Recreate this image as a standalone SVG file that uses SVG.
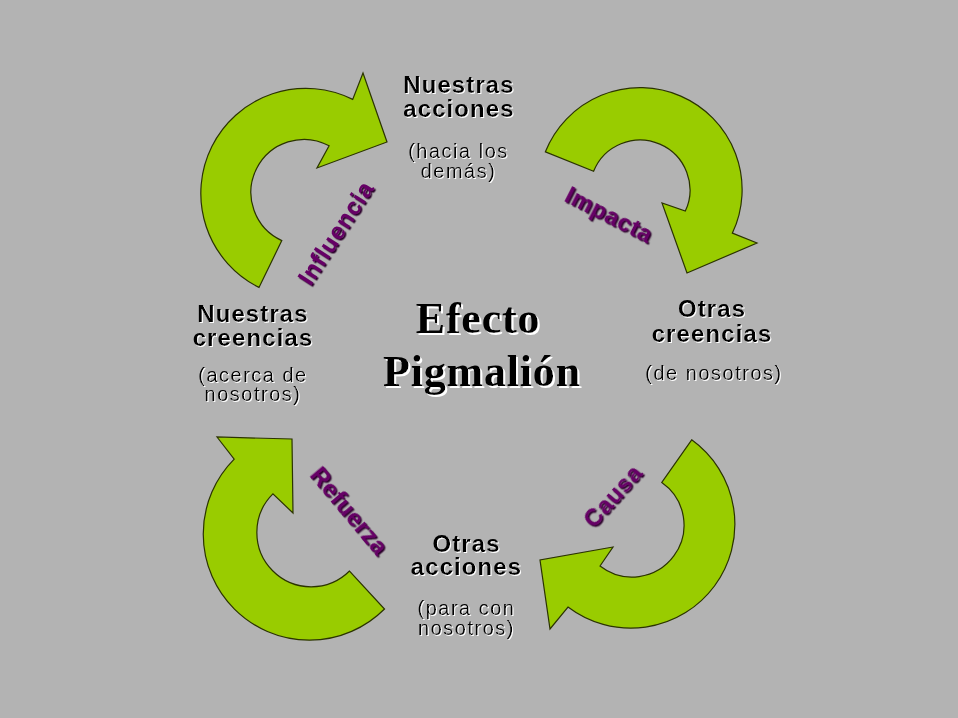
<svg xmlns="http://www.w3.org/2000/svg" width="958" height="718" viewBox="0 0 958 718">
<defs>
<filter id="wsh" x="-10%" y="-20%" width="120%" height="150%">
<feDropShadow dx="1" dy="1" stdDeviation="0" flood-color="#ffffff" flood-opacity="1"/>
</filter>
<filter id="wsh2" x="-10%" y="-20%" width="120%" height="150%">
<feDropShadow dx="2" dy="2" stdDeviation="0" flood-color="#ffffff" flood-opacity="1"/>
</filter>
<filter id="dsh" x="-10%" y="-30%" width="120%" height="160%">
<feDropShadow dx="1.5" dy="1.5" stdDeviation="0" flood-color="#2a002a" flood-opacity="1"/>
</filter>
</defs>
<style>
.arrow{fill:#99cc00;stroke:#2b3300;stroke-width:1.2;stroke-linejoin:miter}
.t{font-family:"Liberation Sans",Arial,sans-serif;text-anchor:middle;fill:#000000}
.b{font-weight:bold;font-size:24px;letter-spacing:1.1px}
.s{font-size:20px;letter-spacing:1.5px}
.title{font-family:"Liberation Serif","Times New Roman",serif;font-weight:bold;font-size:44px;text-anchor:middle;letter-spacing:0.8px;fill:#000000}
.lab{font-family:"Liberation Sans",Arial,sans-serif;font-weight:bold;font-size:24px;text-anchor:middle;letter-spacing:0.6px;fill:#660066}
</style>
<rect width="958" height="718" fill="#b3b3b3"/>
<g id="connectors">
<path id="arrow-influencia" class="arrow" d="M259,287.4 A105,105 0 1 1 352.7,99.4 L363,73 L387,142 L317,168 L329.1,145.8 A53,53 0 1 0 281.8,240.6 Z"/>
<path id="arrow-impacta" class="arrow" d="M545.4,151.8 A102,102 0 1 1 732.4,233.1 L757,243 L687,273 L662,203 L685.3,211.1 A50,50 0 1 0 593.6,171.3 Z"/>
<path id="arrow-causa" class="arrow" d="M691.7,439.8 A104,104 0 1 1 568,607 L550,629 L540,560 L613,547 L600,566 A52,52 0 1 0 661.8,482.4 Z"/>
<path id="arrow-refuerza" class="arrow" d="M384.5,609 A106,106 0 0 1 234.2,459.1 L217,437 L292,439 L293,513 L272.9,493.9 A54,54 0 0 0 349.5,571 Z"/>
<g filter="url(#dsh)">
<text class="lab" transform="translate(336,233) rotate(-57)" x="0" y="8">Influencia</text>
<text class="lab" transform="translate(609,215) rotate(27)" x="0" y="8">Impacta</text>
<text class="lab" transform="translate(613,496) rotate(-48)" x="0" y="8">Causa</text>
<text class="lab" transform="translate(349,511) rotate(50)" x="0" y="8">Refuerza</text>
</g>
</g>
<g id="node-nuestras-acciones" filter="url(#wsh)">
<text class="t b" x="459" y="93">Nuestras</text>
<text class="t b" x="459" y="117">acciones</text>
<text class="t s" x="458.5" y="158">(hacia los</text>
<text class="t s" x="458.5" y="178">demás)</text>
</g>
<g id="node-otras-creencias" filter="url(#wsh)">
<text class="t b" x="712" y="317">Otras</text>
<text class="t b" x="712" y="342">creencias</text>
<text class="t s" x="714" y="380">(de nosotros)</text>
</g>
<g id="node-otras-acciones" filter="url(#wsh)">
<text class="t b" x="466.5" y="552">Otras</text>
<text class="t b" x="466.5" y="575">acciones</text>
<text class="t s" x="466.5" y="615">(para con</text>
<text class="t s" x="466.5" y="635">nosotros)</text>
</g>
<g id="node-nuestras-creencias" filter="url(#wsh)">
<text class="t b" x="253" y="322">Nuestras</text>
<text class="t b" x="253" y="346">creencias</text>
<text class="t s" x="253" y="382">(acerca de</text>
<text class="t s" x="253" y="401">nosotros)</text>
</g>
<g id="node-title" filter="url(#wsh2)">
<text class="title" x="478" y="333">Efecto</text>
<text class="title" x="482" y="386">Pigmalión</text>
</g>
</svg>
